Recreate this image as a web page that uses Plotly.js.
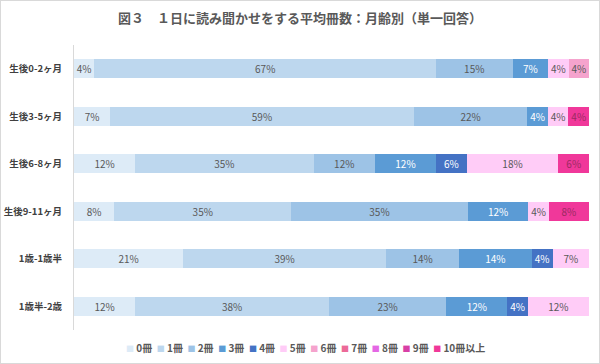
<!DOCTYPE html>
<html><head><meta charset="utf-8">
<script src="https://cdn.plot.ly/plotly-3.0.1.min.js"></script>
<style>
html,body{margin:0;padding:0;background:#fff;}
#chart{width:598px;height:362px;border:1px solid #d9d9d9;}
</style></head>
<body><div id="chart"></div>
<script>
const categories = ['生後0-2ヶ月','生後3-5ヶ月','生後6-8ヶ月','生後9-11ヶ月','1歳-1歳半','1歳半-2歳'];
const seriesNames = ['0冊','1冊','2冊','3冊','4冊','5冊','6冊','7冊','8冊','9冊','10冊以上'];
const v0 = [4, 7, 12, 8, 21, 12];
const v1 = [67, 59, 35, 35, 39, 38];
const v2 = [15, 22, 12, 35, 14, 23];
const v3 = [7, 4, 12, 12, 14, 12];
const v4 = [0, 0, 6, 0, 4, 4];
const v5 = [4, 4, 18, 4, 7, 12];
const v6 = [4, 0, 0, 0, 0, 0];
const v7 = [0, 0, 0, 0, 0, 0];
const v8 = [0, 0, 0, 0, 0, 0];
const v9 = [0, 0, 0, 0, 0, 0];
const v10 = [0, 4, 6, 8, 0, 0];
const values = [v0,v1,v2,v3,v4,v5,v6,v7,v8,v9,v10];
const colors = ['#DDEBF7','#BDD7EE','#9DC3E6','#5B9BD5','#4472C4','#FFCCF7','#F5A3CD','#EC6A98','#E467E4','#D83FA6','#F0389A'];
const textColors = ['#595959','#595959','#595959','#ffffff','#ffffff','#595959','#595959','#595959','#595959','#595959','#9c2a62'];

const traces = seriesNames.map((name, i) => ({
  type: 'bar',
  orientation: 'h',
  name: name,
  y: categories,
  x: values[i],
  text: values[i].map(v => v > 0 ? v + '%' : ''),
  texttemplate: '%{text}',
  textposition: 'inside',
  insidetextanchor: 'middle',
  textangle: 0,
  constraintext: 'none',
  insidetextfont: {size: 10, color: textColors[i], family: 'Noto Sans CJK JP'},
  marker: {color: colors[i], line: {width: 0}},
  hoverinfo: 'skip',
  showlegend: false
}));

// manual one-row legend (Plotly's legend entries are too wide to fit in one row)
const legendText = seriesNames.map((n, i) =>
  '<span style="color:' + colors[i] + ';font-size:8px">■</span> ' + n
).join('  ');

const layout = {
  width: 598, height: 362,
  margin: {l: 73, r: 10, t: 44, b: 33},
  paper_bgcolor: '#ffffff', plot_bgcolor: '#ffffff',
  font: {family: 'Noto Sans CJK JP', color: '#595959', size: 10},
  title: {text: '<b>図３　１日に読み聞かせをする平均冊数：月齢別（単一回答）</b>', x: 0.5, xanchor: 'center', y: 0.952, yanchor: 'middle', font: {size: 13, color: '#595959', family: 'Noto Sans CJK JP'}},
  barmode: 'stack',
  barnorm: 'percent',
  bargap: 0.6,
  showlegend: false,
  annotations: [{
    text: legendText, showarrow: false,
    xref: 'paper', yref: 'paper', x: 0.45, xanchor: 'center', y: -0.06, yanchor: 'middle',
    font: {size: 10, color: '#595959', family: 'Noto Sans CJK JP', weight: 'bold'}
  }],
  xaxis: {range: [0, 100], showgrid: false, zeroline: false, showticklabels: false, showline: false, fixedrange: true},
  yaxis: {autorange: 'reversed', showgrid: false, zeroline: false, showline: true, linecolor: '#d9d9d9', linewidth: 1, ticks: '', ticklabelstandoff: 9, tickfont: {size: 9.5, color: '#404040', weight: 'bold'}}
};

Plotly.newPlot('chart', traces, layout, {displayModeBar: false, staticPlot: true});
</script></body></html>
